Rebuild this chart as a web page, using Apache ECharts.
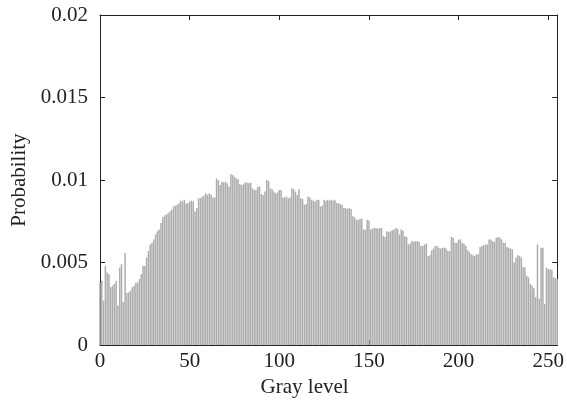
<!DOCTYPE html>
<html>
<head>
<meta charset="utf-8">
<script src="https://cdn.jsdelivr.net/npm/echarts@6/dist/echarts.min.js"></script>
<style>
html,body{margin:0;padding:0;background:#fff;}
#chart{width:567px;height:403px;}
</style>
</head>
<body>
<div id="chart"></div>
<script>
// Gray levels 0..255
const grayLevels = Array.from({length: 256}, (_, i) => i);
// Probability for each gray level
const probability = [
0.0038,0.0039,0.0027,0.0048,0.0044,0.0043,0.0035,0.0036,0.0037,0.0039,
0.0024,0.0047,0.0049,0.0026,0.0056,0.00315,0.0032,0.0033,0.0035,0.0036,
0.0038,0.0038,0.0040,0.0043,0.0048,0.0048,0.0053,0.0057,0.0061,0.0062,
0.0064,0.0067,0.0069,0.0070,0.0074,0.00775,0.00785,0.0079,0.0080,0.0081,
0.0082,0.0084,0.00845,0.0085,0.0086,0.00875,0.0087,0.0088,0.0086,0.0086,
0.0087,0.00875,0.0087,0.0081,0.0083,0.0089,0.0089,0.0090,0.00905,0.0092,
0.0091,0.0092,0.0091,0.00895,0.00895,0.0101,0.0100,0.0097,0.0099,0.00985,
0.0099,0.0098,0.0096,0.01035,0.0103,0.0102,0.0101,0.01005,0.00975,0.0097,
0.00975,0.00985,0.00985,0.0098,0.00985,0.0095,0.0094,0.0094,0.0096,0.0096,
0.00915,0.0091,0.0093,0.0100,0.00995,0.0095,0.00945,0.0093,0.0092,0.00925,
0.0094,0.0094,0.00895,0.00895,0.0090,0.0089,0.00895,0.0095,0.00945,0.0093,
0.0091,0.00945,0.0089,0.00885,0.0085,0.00855,0.0090,0.00895,0.0088,0.00875,
0.0087,0.0088,0.0088,0.0084,0.00845,0.0088,0.00875,0.0088,0.00875,0.0088,
0.00875,0.0088,0.0086,0.0086,0.00855,0.0085,0.0083,0.0083,0.00825,0.0083,
0.00825,0.0078,0.00775,0.0076,0.0076,0.00765,0.00765,0.0070,0.0070,0.0076,
0.00755,0.0070,0.00705,0.0071,0.0071,0.00705,0.0071,0.0071,0.0066,0.00655,
0.0069,0.00685,0.0069,0.00695,0.0070,0.0071,0.00705,0.0067,0.0070,0.00695,
0.0066,0.00655,0.0061,0.00615,0.0063,0.00625,0.0063,0.0063,0.00625,0.0060,
0.0060,0.0061,0.00615,0.0054,0.00545,0.00575,0.00585,0.0060,0.0060,0.0059,
0.00585,0.0059,0.0059,0.00585,0.0057,0.0057,0.00655,0.0065,0.0062,0.0062,
0.0064,0.0064,0.0062,0.00615,0.0060,0.00575,0.00565,0.0055,0.00545,0.0054,
0.0055,0.0055,0.00595,0.0060,0.00605,0.0061,0.0061,0.0064,0.0064,0.0063,
0.00625,0.0065,0.00655,0.0065,0.0064,0.0062,0.0062,0.00595,0.0059,0.00585,
0.0058,0.0050,0.0053,0.00545,0.0054,0.0053,0.00475,0.0047,0.0042,0.0041,
0.0037,0.0036,0.00345,0.0029,0.0061,0.0028,0.0059,0.0059,0.0025,0.0047,
0.0046,0.0046,0.00455,0.0041,0.00405,0.0040
];
const xTicks = [0, 50, 100, 150, 200, 250];
const yTicks = [0, 0.005, 0.01, 0.015, 0.02];

const fontFam = '"Liberation Serif", "Times New Roman", serif';
const fs = 21;
const chart = echarts.init(document.getElementById('chart'), null, {renderer: 'canvas'});
const lineStyle = {color: '#222', width: 1};
chart.setOption({
  animation: false,
  backgroundColor: '#fff',
  grid: {left: 100, right: 8, top: 15, bottom: 54.5, containLabel: false},
  xAxis: [{
    type: 'value', min: 0, max: 255, interval: 50,
    name: 'Gray level', nameLocation: 'middle', nameGap: 19,
    nameTextStyle: {fontFamily: fontFam, fontSize: fs, color: '#222', padding: [0, 48, 0, 0]},
    axisLine: {show: true, onZero: false, lineStyle},
    axisTick: {show: true, inside: true, length: 5, lineStyle},
    axisLabel: {fontFamily: fontFam, fontSize: fs, color: '#222', margin: 6,
      formatter: v => xTicks.includes(v) ? String(v) : ''},
    splitLine: {show: false}
  }, {
    type: 'value', min: 0, max: 255, interval: 50, position: 'top',
    axisLine: {show: true, onZero: false, lineStyle},
    axisTick: {show: true, inside: true, length: 5, lineStyle},
    axisLabel: {show: false}, splitLine: {show: false}
  }],
  yAxis: [{
    type: 'value', min: 0, max: 0.02, interval: 0.005,
    name: 'Probability', nameLocation: 'middle', nameGap: 66,
    nameTextStyle: {fontFamily: fontFam, fontSize: fs, color: '#222'},
    axisLine: {show: true, onZero: false, lineStyle},
    axisTick: {show: true, inside: true, length: 5, lineStyle},
    axisLabel: {fontFamily: fontFam, fontSize: fs, color: '#222', margin: 12,
      formatter: v => { const t = yTicks.find(k => Math.abs(k - v) < 1e-9); return t === undefined ? '' : String(t); }},
    splitLine: {show: false}
  }, {
    type: 'value', min: 0, max: 0.02, interval: 0.005, position: 'right',
    axisLine: {show: true, onZero: false, lineStyle},
    axisTick: {show: true, inside: true, length: 5, lineStyle},
    axisLabel: {show: false}, splitLine: {show: false}
  }],
  series: [{
    type: 'bar',
    xAxisIndex: 0, yAxisIndex: 0,
    data: grayLevels.map((g, i) => [g, probability[i]]),
    barWidth: 1.5,
    itemStyle: {color: '#adadad'},
    clip: true
  }]
});
</script>
</body>
</html>
